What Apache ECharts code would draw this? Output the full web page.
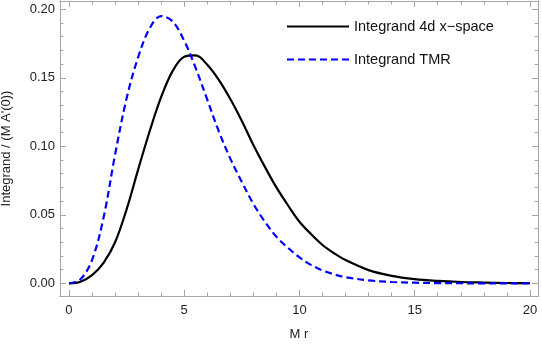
<!DOCTYPE html>
<html>
<head>
<meta charset="utf-8">
<script src="https://cdn.jsdelivr.net/npm/echarts@6/dist/echarts.min.js"></script>
<style>
  html, body { margin: 0; padding: 0; background: #fff; }
  #chart { width: 542px; height: 344px; }
</style>
</head>
<body>
<div id="chart"></div>
<script>
// values
const rValues = [0, 0.5, 1, 1.5, 2, 2.5, 3, 3.5, 4, 4.5, 5, 5.5, 6, 6.5, 7, 7.5, 8, 8.5, 9, 9.5, 10, 10.5, 11, 11.5, 12, 13, 14, 15, 16, 17, 18, 19, 20];
const xSpace = [0, 0.0012, 0.006, 0.015, 0.030, 0.054, 0.083, 0.111, 0.136, 0.155, 0.1653, 0.1663, 0.1595, 0.1485, 0.1345, 0.1185, 0.101, 0.085, 0.070, 0.057, 0.045, 0.036, 0.028, 0.022, 0.017, 0.0097, 0.0055, 0.0031, 0.0018, 0.001, 0.0006, 0.0003, 0.0002];
const tmr = [0, 0.003, 0.017, 0.048, 0.094, 0.135, 0.165, 0.186, 0.195, 0.191, 0.177, 0.157, 0.134, 0.111, 0.091, 0.074, 0.058, 0.045, 0.034, 0.026, 0.019, 0.0135, 0.0095, 0.0066, 0.0045, 0.0022, 0.001, 0.0005, 0.0002, 0.0001, 0, 0, 0];

const xMajor = [0, 5, 10, 15, 20];
const xMinor = [1, 2, 3, 4, 6, 7, 8, 9, 11, 12, 13, 14, 16, 17, 18, 19];
const yMajor = [0, 0.05, 0.1, 0.15, 0.2];
const yMinor = [0.01, 0.02, 0.03, 0.04, 0.06, 0.07, 0.08, 0.09, 0.11, 0.12, 0.13, 0.14, 0.16, 0.17, 0.18, 0.19];

const xMin = -0.39, xMax = 20.35;
const yMin = -0.0092, yMax = 0.206;

const chart = echarts.init(document.getElementById('chart'), null, { renderer: 'canvas' });

const font = 'Liberation Sans, Arial, sans-serif';
const frameColor = '#a6a6a6';

// one axis per side and tick size, so the frame gets ticks on all four edges
function ax(pos, lo, hi, values, len, labels) {
  const a = {
    type: 'value', min: lo, max: hi,
    axisLine: { show: true, onZero: false, lineStyle: { color: frameColor } },
    splitLine: { show: false },
    axisTick: { show: true, inside: true, length: len, customValues: values, lineStyle: { color: frameColor } },
    axisLabel: { show: labels, customValues: values, color: '#222', fontFamily: font, fontSize: 13 }
  };
  if (pos) a.position = pos;
  return a;
}

const xAxes = [
  ax(null, xMin, xMax, xMajor, 6, true),
  ax('bottom', xMin, xMax, xMinor, 3.5, false),
  ax('top', xMin, xMax, xMajor, 6, false),
  ax('top', xMin, xMax, xMinor, 3.5, false)
];
xAxes[0].axisLabel.margin = 8;
xAxes[0].name = 'M r';
xAxes[0].nameLocation = 'middle';
xAxes[0].nameGap = 32;
xAxes[0].nameTextStyle = { color: '#222', fontFamily: font, fontSize: 13 };

const yAxes = [
  ax(null, yMin, yMax, yMajor, 6, true),
  ax('left', yMin, yMax, yMinor, 3.5, false),
  ax('right', yMin, yMax, yMajor, 6, false),
  ax('right', yMin, yMax, yMinor, 3.5, false)
];
yAxes[0].axisLabel.margin = 5;
yAxes[0].axisLabel.formatter = v => v.toFixed(2);
yAxes[0].name = "Integrand / (M A'(0))";
yAxes[0].nameLocation = 'middle';
yAxes[0].nameGap = 47;
yAxes[0].nameTextStyle = { color: '#222', fontFamily: font, fontSize: 13 };

const option = {
  animation: false,
  backgroundColor: '#fff',
  grid: { left: 60, right: 4, top: 1, bottom: 48, outerBoundsMode: 'none' },
  legend: {
    orient: 'vertical',
    left: 281, top: 14,
    itemWidth: 62, itemHeight: 14, itemGap: 18,
    itemStyle: { opacity: 0 },
    textStyle: { color: '#111', fontFamily: font, fontSize: 14.5 },
    data: ['Integrand 4d x\u2212space', 'Integrand TMR']
  },
  xAxis: xAxes,
  yAxis: yAxes,
  series: [
    {
      name: 'Integrand 4d x\u2212space',
      type: 'line', smooth: 0.35, symbol: 'none',
      lineStyle: { color: '#000', width: 2.2 },
      itemStyle: { color: '#000' },
      data: rValues.map((r, i) => [r, xSpace[i]])
    },
    {
      name: 'Integrand TMR',
      type: 'line', smooth: 0.35, symbol: 'none',
      lineStyle: { color: '#0000ff', width: 2.2, type: [7, 4] },
      itemStyle: { color: '#0000ff' },
      data: rValues.map((r, i) => [r, tmr[i]])
    }
  ]
};

chart.setOption(option);
</script>
</body>
</html>
